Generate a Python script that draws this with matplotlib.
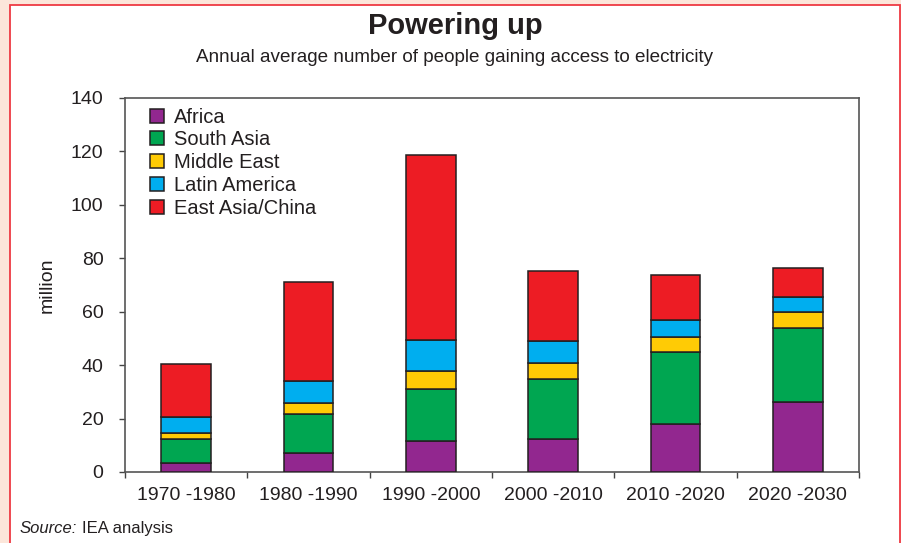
import matplotlib
matplotlib.use("Agg")
import matplotlib.pyplot as plt
import numpy as np
from matplotlib.patches import Rectangle

plt.rcParams["font.family"] = ["Liberation Sans", "DejaVu Sans"]

# Data (million people per year)
periods = ["1970 -1980", "1980 -1990", "1990 -2000", "2000 -2010", "2010 -2020", "2020 -2030"]
regions = ["Africa", "South Asia", "Middle East", "Latin America", "East Asia/China"]
africa = [3.5, 7.1, 11.6, 12.4, 18.1, 26.1]
south_asia = [8.9, 14.7, 19.6, 22.3, 26.8, 27.9]
middle_east = [2.1, 3.9, 6.7, 6.1, 5.7, 5.9]
latin_america = [6.1, 8.4, 11.4, 8.1, 6.3, 5.5]
east_asia = [19.7, 37.2, 69.4, 26.3, 17.0, 11.0]
y_ticks = [0, 20, 40, 60, 80, 100, 120, 140]

series = [africa, south_asia, middle_east, latin_america, east_asia]
colors = ["#92278F", "#00A651", "#FFCB05", "#00AEEF", "#ED1C24"]

fig = plt.figure(figsize=(9.01, 5.43), dpi=100)
fig.patch.set_facecolor("#FCE6DA")

# White panel with red border
panel = Rectangle((10 / 901, -0.01), (890 / 901), 1 - 5 / 543 + 0.01,
                  transform=fig.transFigure, facecolor="white",
                  edgecolor="#EE3A43", linewidth=1.3, zorder=-10)
fig.patches.append(panel)

ax = fig.add_axes([125 / 901, 71 / 543, 734 / 901, 374 / 543])
ax.set_zorder(1)
ax.set_facecolor("white")

x = np.arange(len(periods))
bottom = np.zeros(len(periods))
handles = []
for name, vals, c in zip(regions, series, colors):
    vals = np.array(vals)
    b = ax.bar(x, vals, width=0.405, bottom=bottom, color=c,
               edgecolor="#231F20", linewidth=1.1, label=name, zorder=3)
    handles.append(b)
    bottom += vals

ax.set_xlim(-0.5, len(periods) - 0.5)
ax.set_ylim(0, 140)
ax.set_yticks(y_ticks)
ax.set_yticklabels([str(v) for v in y_ticks], fontsize=14, color="#231F20")
ax.set_xticks(x)
ax.set_xticklabels(periods, fontsize=14, color="#231F20")
ax.tick_params(axis="x", which="major", length=0, pad=11)
ax.set_xticks(np.arange(-0.5, len(periods)), minor=True)
ax.tick_params(axis="x", which="minor", length=4, width=1, color="#444444", direction="out")
ax.tick_params(axis="y", length=4.5, width=1, color="#444444", pad=11)

for s in ax.spines.values():
    s.set_color("#555555")
    s.set_linewidth(1.2)

ax.set_ylabel("million", fontsize=14, color="#231F20", labelpad=11)

leg = ax.legend(handles=handles, labels=regions, loc="upper left",
                bbox_to_anchor=(0.015, 1.012), frameon=False, fontsize=14.5,
                handlelength=0.7, handleheight=0.7, handletextpad=0.5,
                labelspacing=0.19, borderaxespad=0.3)
for t in leg.get_texts():
    t.set_color("#231F20")

fig.text(0.505, 0.952, "Powering up", ha="center", va="center",
         fontsize=21, fontweight="bold", color="#231F20")
fig.text(0.505, 0.894, "Annual average number of people gaining access to electricity",
         ha="center", va="center", fontsize=13.6, color="#231F20")
src = fig.text(20 / 901, 0.026, "Source:", ha="left", va="center",
               fontsize=12, fontstyle="italic", color="#231F20")
fig.canvas.draw()
ext = src.get_window_extent()
fig.text((ext.x1 + 5) / 901, 0.026, "IEA analysis", ha="left", va="center",
         fontsize=12, color="#231F20")

fig.savefig("out.png", dpi=100, facecolor=fig.get_facecolor())
